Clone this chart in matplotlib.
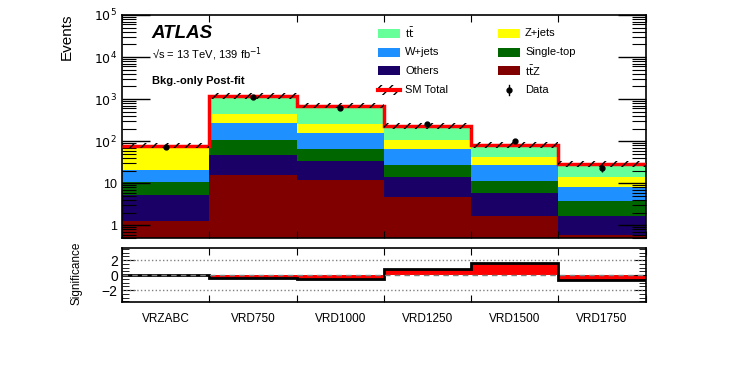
import numpy as np
import matplotlib
matplotlib.use("Agg")
import matplotlib.pyplot as plt
from matplotlib.patches import Rectangle
from matplotlib.lines import Line2D
from matplotlib.ticker import FixedLocator, LogLocator, NullFormatter, MultipleLocator

plt.rcParams['font.family'] = ['Liberation Sans', 'DejaVu Sans']
plt.rcParams['hatch.linewidth'] = 1.0

# regions (bins)
regions = ['VRZABC', 'VRD750', 'VRD1000', 'VRD1250', 'VRD1500', 'VRD1750']

# background yields per region
ttZ = np.array([1.24, 16.0, 11.7, 4.6, 1.64, 0.58])
others = np.array([4.0, 32.0, 22.3, 9.5, 4.3, 1.06])
single_top = np.array([5.5, 57.0, 31.0, 12.5, 5.6, 2.06])
w_jets = np.array([10.3, 170.0, 96.0, 40.4, 15.7, 4.5])
z_jets = np.array([53.0, 158.0, 96.0, 42.0, 15.8, 5.9])
ttbar = np.array([5.0, 772.0, 447.0, 124.0, 38.0, 14.6])

data = np.array([74, 1120, 625, 256, 101, 23])
significance = np.array([-0.05, -0.35, -0.48, 0.82, 1.56, -0.61])

colors = {
    'ttZ': '#800000',
    'Others': '#1a0066',
    'Single-top': '#006600',
    'W+jets': '#1e90ff',
    'Z+jets': '#ffff00',
    'ttbar': '#66ff99',
}

edges = np.arange(len(regions) + 1)
centers = edges[:-1] + 0.5

layers = [ttZ, others, single_top, w_jets, z_jets, ttbar]
layer_colors = [colors['ttZ'], colors['Others'], colors['Single-top'],
                colors['W+jets'], colors['Z+jets'], colors['ttbar']]

fig = plt.figure(figsize=(7.47, 3.73), dpi=100)
ax = fig.add_axes([0.1633, 0.3619, 0.701, 0.5979])
ax2 = fig.add_axes([0.1633, 0.1903, 0.701, 0.1448])

# stacked backgrounds
base = np.full(len(regions), 1e-3)
for vals, c in zip(layers, layer_colors):
    top = base + vals
    ax.stairs(top, edges, baseline=base, fill=True, color=c, lw=0)
    base = top
total = base

# total line + hatched uncertainty band
ax.stairs(total, edges, color='#ff0000', lw=2.5, baseline=None, zorder=3)
ax.fill_between(edges, np.append(total / 1.17, total[-1] / 1.17),
                np.append(total * 1.17, total[-1] * 1.17), step='post',
                facecolor='none', edgecolor='black', hatch='///', lw=0, zorder=4)

# data
ax.errorbar(centers, data, yerr=np.sqrt(data), fmt='o', color='black',
            ms=3.5, elinewidth=1, capsize=0, zorder=5)

ax.set_yscale('log')
ax.set_ylim(0.5, 1e5)
ax.set_xlim(0, len(regions))
ax.set_xticks(edges)
ax.set_xticklabels([])
ax.yaxis.set_major_locator(FixedLocator([1, 10, 100, 1e3, 1e4, 1e5]))
ax.set_yticklabels(['1', '10', r'$10^2$', r'$10^3$', r'$10^4$', r'$10^5$'])
ax.yaxis.set_minor_locator(LogLocator(base=10, subs=np.arange(2, 10)))
ax.yaxis.set_minor_formatter(NullFormatter())
ax.tick_params(axis='y', which='major', direction='in', length=20, width=1,
               right=True, labelsize=9)
ax.tick_params(axis='y', which='minor', direction='in', length=10, width=0.8,
               right=True)
ax.tick_params(axis='x', which='major', direction='in', length=5, top=True)
for s in ax.spines.values():
    s.set_linewidth(1.2)

fig.text(0.0895, 0.965, 'Events', fontsize=11, rotation=90, ha='center', va='top')

ax.text(0.057, 0.915, 'ATLAS', transform=ax.transAxes, fontsize=13.5,
        fontweight='bold', fontstyle='italic', va='center')
ax.text(0.057, 0.825, '\u221as = 13 TeV, 139 fb$^{-1}$',
        transform=ax.transAxes, fontsize=8, va='center')
ax.text(0.057, 0.705, 'Bkg.-only Post-fit', transform=ax.transAxes,
        fontsize=8, fontweight='bold', va='center')

# legend, drawn by hand in axes coordinates
def ax_xy(px, py):
    return (px - 122) / 523.6, (238 - py) / 223.0

legend_items = [
    (378, 33.3, 'patch', colors['ttbar'], r't$\bar{\mathrm{t}}$'),
    (378, 52.3, 'patch', colors['W+jets'], 'W+jets'),
    (378, 71.0, 'patch', colors['Others'], 'Others'),
    (378, 90.0, 'total', None, 'SM Total'),
    (498, 33.3, 'patch', colors['Z+jets'], 'Z+jets'),
    (498, 52.3, 'patch', colors['Single-top'], 'Single-top'),
    (498, 71.0, 'patch', colors['ttZ'], r't$\bar{\mathrm{t}}$Z'),
    (498, 90.0, 'data', None, 'Data'),
]
for px, py, kind, c, label in legend_items:
    x0, y0 = ax_xy(px, py)
    w = 22 / 523.6
    h = 9 / 223.0
    if kind == 'patch':
        ax.add_patch(Rectangle((x0, y0 - h / 2), w, h, transform=ax.transAxes,
                               facecolor=c, edgecolor='none', clip_on=False))
    elif kind == 'total':
        ax.add_line(Line2D([x0, x0 + w], [y0, y0], transform=ax.transAxes,
                           color='#ff0000', lw=3, clip_on=False))
        ax.add_patch(Rectangle((x0, y0 - h / 2), w, h, transform=ax.transAxes,
                               facecolor='none', edgecolor='black', hatch='///',
                               lw=0, clip_on=False))
    else:
        ax.add_line(Line2D([x0 + w / 2, x0 + w / 2], [y0 - h / 2, y0 + h / 2],
                           transform=ax.transAxes, color='black', lw=1, clip_on=False))
        ax.add_line(Line2D([x0 + w / 2], [y0], transform=ax.transAxes, marker='o',
                           ms=3.5, color='black', clip_on=False))
    ax.text(x0 + 27 / 523.6, y0, label, transform=ax.transAxes, fontsize=8,
            va='center', ha='left')

# significance panel
ax2.axhline(0, color='gray', ls=(0, (4, 3)), lw=1)
ax2.axhline(2, color='gray', ls=':', lw=1)
ax2.axhline(-2, color='gray', ls=':', lw=1)
ax2.stairs(significance, edges, baseline=0, fill=True, color='#ff0000', lw=0)
ax2.stairs(significance, edges, baseline=None, color='black', lw=2)
ax2.set_xlim(0, len(regions))
ax2.set_ylim(-3.6, 3.6)
ax2.set_xticks(edges)
ax2.set_xticklabels([])
ax2.set_xticks(centers, minor=True)
ax2.set_xticklabels(regions, minor=True, fontsize=8.5)
ax2.tick_params(axis='x', which='minor', length=0, pad=8)
ax2.tick_params(axis='x', which='major', direction='in', length=5, top=True)
ax2.set_yticks([-2, 0, 2])
ax2.set_yticklabels(['\u22122', '0', '2'])
ax2.yaxis.set_minor_locator(MultipleLocator(0.5))
ax2.tick_params(axis='y', which='major', direction='in', length=9, right=True,
                labelsize=10, pad=3)
ax2.tick_params(axis='y', which='minor', direction='in', length=5, right=True)
for s in ax2.spines.values():
    s.set_linewidth(1.2)
fig.text(0.103, 0.2680, 'Significance', fontsize=8.5, rotation=90,
         ha='center', va='center')

fig.savefig('out.png', dpi=100)
